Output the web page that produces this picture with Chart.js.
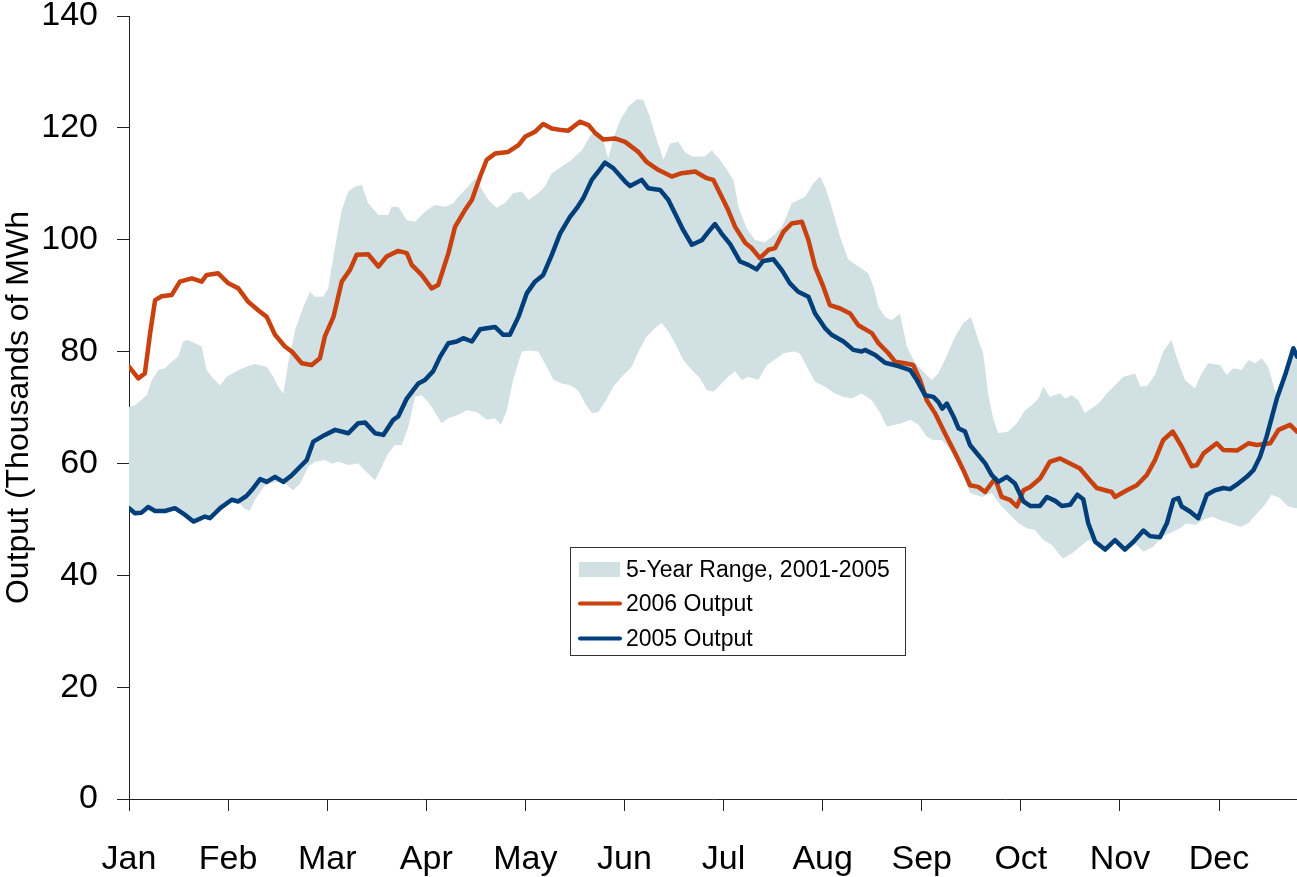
<!DOCTYPE html>
<html>
<head>
<meta charset="utf-8">
<script src="https://cdn.jsdelivr.net/npm/chart.js@4.4.1/dist/chart.umd.min.js"></script>
<style>
  html, body { margin: 0; padding: 0; background: #ffffff; }
  #wrap { width: 1297px; height: 877px; position: relative; }
</style>
</head>
<body>
<div id="wrap"><canvas id="c" width="1297" height="877"></canvas></div>
<script>
// ---------------- DATA ----------------
// x = position along the year in "days" (30 per month tick), y = thousands of MWh
const monthLabels = ['Jan','Feb','Mar','Apr','May','Jun','Jul','Aug','Sep','Oct','Nov','Dec'];
const daysPerTick = 30;
const lastDay = 353.6;
const yTicks = [0, 20, 40, 60, 80, 100, 120, 140];

const rangeLabel = '5-Year Range, 2001-2005';
const label2006 = '2006 Output';
const label2005 = '2005 Output';
const yTitle = 'Output (Thousands of MWh';

const rangeUpper = [
  [0,70.1],[1.8,70.4],[5.4,72.2],[6.9,74.9],[8.9,76.7],[10.9,77.0],[12.9,78.2],[14.9,79.1],[16.4,81.8],[17.5,82.1],
  [20.0,81.5],[22.0,80.9],[23.5,76.7],[25.5,75.2],[27.6,74.0],[29.6,75.5],[33.1,76.7],[35.6,77.3],[38.1,77.8],[41.7,77.3],
  [43.7,75.5],[45.2,73.7],[46.7,72.5],[48.2,77.9],[50.3,83.9],[52.8,88.0],[54.8,90.7],[56.3,89.8],[58.8,89.8],[60.3,91.3],
  [62.4,98.8],[64.4,105.3],[66.4,108.6],[68.4,109.5],[70.5,109.8],[72.4,106.5],[75.5,104.4],[78.5,104.4],[79.5,105.9],[81.5,105.9],
  [84.1,103.5],[86.6,103.2],[89.6,105.0],[92.6,106.2],[95.7,105.9],[98.2,106.5],[99.7,107.7],[102.7,109.5],[104.8,111.0],[106.3,109.5],
  [108.8,107.1],[111.3,105.7],[113.8,106.5],[116.3,108.3],[118.9,108.6],[120.9,107.1],[123.9,108.3],[125.9,109.5],[128.0,111.9],[131.0,113.1],
  [134.0,114.3],[137.1,116.0],[139.1,118.1],[141.1,119.6],[143.1,118.7],[145.1,114.5],[146.6,118.1],[148.7,121.4],[151.2,123.8],[153.7,125.1],
  [155.7,125.0],[157.7,122.0],[159.8,117.8],[161.8,114.3],[163.8,117.2],[166.3,117.5],[168.3,115.7],[170.4,114.9],[174.4,114.9],[176.4,116.0],
  [178.9,114.3],[181.0,112.5],[183.0,110.7],[184.5,105.9],[187.0,102.0],[189.5,100.0],[192.5,99.5],[195.6,101.0],[197.6,102.3],[198.6,103.5],
  [200.6,106.5],[204.7,107.7],[207.2,110.1],[209.2,111.3],[210.7,109.5],[212.7,105.9],[215.3,100.5],[217.8,96.4],[220.8,95.2],[223.8,94.0],
  [225.4,91.6],[226.9,88.0],[228.9,86.2],[230.9,85.6],[233.4,86.8],[235.5,80.9],[238.0,77.9],[241.0,76.1],[243.0,74.9],[245.0,76.1],
  [247.0,78.5],[250.1,82.7],[252.6,85.1],[254.9,86.2],[257.1,82.1],[258.6,79.7],[260.1,72.5],[261.7,67.8],[263.2,65.4],[266.2,65.7],
  [268.8,67.2],[271.3,69.5],[273.3,70.4],[275.3,71.6],[276.8,73.7],[278.8,71.9],[281.9,72.5],[283.4,71.6],[285.4,72.2],[287.4,71.3],
  [289.4,69.0],[292.0,70.1],[294.0,71.0],[296.0,72.5],[298.5,74.0],[301.0,75.5],[303.1,75.8],[304.6,76.1],[306.1,73.8],[308.1,73.8],
  [310.6,75.8],[313.1,80.0],[315.6,82.1],[317.1,79.1],[319.7,74.9],[322.7,73.4],[324.7,76.1],[326.7,77.9],[330.3,77.6],[332.3,75.8],
  [334.3,77.0],[336.8,76.7],[338.9,78.5],[340.9,77.9],[342.9,78.8],[344.9,77.3],[346.9,73.1],[347.5,72.5],[348.8,73.8],[350.0,75.8],
  [352.5,80.6],[353.6,79.1]
];

const rangeLower = [
  [0,52.0],[1.8,51.1],[3.8,51.2],[5.8,52.2],[7.9,51.5],[10.9,51.5],[13.9,52.0],[17.0,50.8],[19.5,49.6],[23.0,50.5],
  [24.5,50.2],[27.6,52.0],[31.1,53.5],[33.1,53.2],[34.8,52.0],[36.6,51.5],[38.1,53.5],[41.2,56.1],[44.2,56.7],[47.2,56.4],
  [49.7,55.2],[51.8,56.4],[54.3,59.4],[56.3,60.3],[59.3,60.6],[61.4,60.0],[63.4,60.3],[66.4,59.7],[69.4,60.0],[72.4,58.2],
  [74.5,57.0],[76.5,59.4],[78.5,61.8],[80.5,63.3],[82.6,63.3],[84.6,66.6],[86.6,71.9],[88.6,72.2],[90.6,71.0],[92.6,69.2],
  [94.6,67.2],[96.7,68.1],[99.7,68.7],[102.2,69.5],[105.3,69.2],[108.3,67.8],[110.8,68.1],[112.6,66.9],[114.4,69.5],[116.3,74.9],
  [118.9,80.0],[121.4,80.2],[123.9,80.0],[126.5,77.3],[128.5,74.9],[131.0,74.3],[133.5,74.0],[136.0,73.1],[138.1,70.7],[140.1,69.0],
  [142.1,69.2],[144.1,71.0],[146.6,73.7],[149.2,75.5],[152.2,77.3],[154.2,80.0],[156.7,82.7],[159.2,84.2],[161.2,85.1],[163.3,83.6],
  [165.3,81.5],[167.8,78.5],[170.4,76.7],[172.9,75.2],[174.9,73.1],[176.9,72.8],[179.4,74.3],[181.4,75.5],[183.5,76.5],[185.5,74.9],
  [187.5,75.5],[190.5,74.9],[193.1,77.6],[196.1,78.8],[198.1,79.7],[201.1,80.0],[203.1,79.7],[205.2,77.3],[207.7,74.6],[210.7,73.7],
  [213.7,72.5],[216.3,71.9],[218.8,71.6],[221.8,72.5],[224.9,71.3],[227.4,69.0],[229.4,66.6],[231.9,66.9],[233.9,67.2],[236.5,67.8],
  [239.0,66.9],[241.5,64.8],[243.5,64.2],[246.1,64.2],[248.5,62.5],[251.1,60.6],[254.6,54.7],[258.2,54.0],[261.2,54.7],[264.2,52.3],
  [267.2,50.5],[269.3,49.3],[271.8,48.4],[274.3,48.1],[276.8,46.3],[279.4,45.4],[281.4,43.9],[282.9,43.0],[285.4,43.9],[287.9,45.1],
  [290.4,46.3],[293.0,45.8],[295.5,44.6],[298.5,46.3],[301.5,44.6],[304.1,46.0],[307.1,44.2],[310.1,45.1],[312.6,46.9],[315.1,47.5],
  [318.1,48.4],[320.1,49.3],[322.7,49.0],[325.2,49.9],[327.8,50.5],[330.3,49.9],[333.3,49.3],[336.4,48.7],[338.9,49.3],[341.4,51.0],
  [343.9,52.6],[345.9,54.4],[348.4,53.8],[350.9,52.3],[353.6,52.0]
];

const output2006 = [
  [0,77.3],[2.8,75.2],[4.8,76.1],[6.4,83.3],[7.9,89.2],[9.9,89.9],[12.9,90.1],[15.4,92.5],[19.0,93.1],[22.0,92.5],
  [23.5,93.7],[27.0,94.0],[30.1,92.2],[33.1,91.3],[36.1,88.9],[39.1,87.4],[41.7,86.2],[44.2,83.0],[47.2,80.9],[49.3,80.0],
  [52.3,77.9],[55.3,77.6],[57.8,78.8],[59.3,82.7],[61.9,86.2],[64.4,92.5],[66.9,94.6],[68.9,97.3],[72.4,97.4],[75.5,95.2],
  [78.0,97.0],[81.5,98.0],[84.1,97.6],[85.6,95.5],[88.6,93.7],[91.6,91.3],[93.6,91.9],[96.7,97.6],[98.7,102.3],[101.7,105.3],
  [103.8,107.1],[106.3,111.3],[108.3,114.3],[110.8,115.4],[114.8,115.7],[117.9,116.9],[119.9,118.4],[122.9,119.3],[125.4,120.7],[128.0,119.9],
  [131.0,119.6],[133.0,119.5],[136.5,121.1],[139.1,120.5],[141.1,119.1],[143.6,117.9],[147.1,118.1],[150.2,117.5],[154.2,115.7],[156.7,113.9],
  [160.2,112.5],[164.3,111.3],[167.3,111.9],[171.4,112.2],[174.9,111.0],[176.9,110.7],[178.9,108.3],[181.4,105.3],[183.5,102.3],[186.6,99.4],
  [188.5,98.5],[191.0,96.7],[193.6,98.2],[195.6,98.5],[198.1,101.4],[200.6,102.9],[203.7,103.2],[205.7,99.9],[207.7,95.2],[210.2,91.6],
  [212.2,88.3],[215.3,87.7],[218.3,86.8],[220.8,84.7],[224.9,83.3],[226.9,81.5],[229.9,79.7],[231.9,78.2],[234.9,77.9],[237.4,77.6],
  [239.5,74.9],[241.5,71.3],[244.0,69.0],[247.0,65.4],[250.1,61.8],[252.6,58.8],[254.6,56.1],[257.1,55.8],[259.2,54.9],[262.2,57.3],
  [264.2,54.0],[266.7,53.5],[268.8,52.3],[270.8,55.2],[272.8,55.8],[275.8,57.3],[278.8,60.3],[281.9,60.9],[284.9,60.0],[287.9,59.1],
  [290.9,57.0],[293.0,55.6],[295.5,55.2],[297.5,54.9],[298.5,54.0],[302.1,55.2],[305.1,56.1],[308.1,57.9],[310.6,60.6],[313.1,64.2],
  [316.0,65.7],[318.7,63.0],[321.7,59.5],[323.3,59.7],[325.3,61.8],[329.3,63.6],[331.3,62.4],[335.4,62.3],[338.9,63.6],[341.4,63.3],
  [345.5,63.6],[348.0,66.0],[351.5,66.9],[353.6,65.7]
];

const output2005 = [
  [0,52.0],[1.8,51.1],[3.8,51.2],[5.8,52.2],[7.9,51.5],[10.9,51.5],[13.9,52.0],[17.0,50.8],[19.5,49.6],[23.0,50.5],
  [24.5,50.2],[27.6,52.0],[31.1,53.5],[33.1,53.2],[35.6,54.2],[37.1,55.2],[39.7,57.2],[41.7,56.7],[44.2,57.6],[46.7,56.7],
  [49.3,57.9],[51.8,59.4],[53.8,60.6],[55.8,63.9],[59.3,65.1],[62.4,66.0],[66.4,65.4],[69.4,67.2],[71.5,67.3],[74.5,65.4],
  [77.0,65.1],[80.0,67.8],[81.5,68.4],[84.1,71.6],[87.6,74.3],[89.6,74.9],[92.1,76.5],[94.2,79.1],[96.7,81.5],[99.2,81.8],
  [101.2,82.4],[103.8,81.8],[106.3,84.0],[110.8,84.4],[113.3,83.0],[115.3,83.0],[117.9,86.2],[120.4,90.4],[122.9,92.5],[125.4,93.7],
  [128.0,97.3],[130.5,101.1],[133.5,104.1],[135.5,105.6],[137.5,107.4],[140.1,110.7],[142.1,112.2],[144.1,113.8],[146.6,112.8],[150.2,110.4],
  [151.7,109.6],[155.2,110.7],[157.2,109.2],[160.8,108.9],[163.3,107.1],[165.8,104.1],[167.8,101.7],[170.4,99.1],[173.4,99.9],[175.4,101.4],
  [177.4,102.8],[179.4,101.1],[182.0,99.2],[185.0,96.1],[187.5,95.5],[190.0,94.7],[192.0,96.2],[195.1,96.5],[197.6,94.6],[200.1,92.2],
  [202.6,90.7],[205.7,89.8],[207.7,86.8],[210.7,84.2],[212.7,83.0],[216.3,81.8],[219.3,80.3],[221.8,80.0],[222.8,80.3],[225.9,79.4],
  [228.9,78.0],[232.9,77.4],[236.5,76.7],[238.5,74.9],[241.0,72.2],[243.5,71.9],[245.0,71.0],[246.2,69.8],[247.6,70.7],[249.6,68.4],
  [251.1,66.3],[253.1,65.7],[254.6,63.3],[257.1,61.5],[259.2,60.0],[261.2,57.9],[263.2,56.7],[265.7,57.6],[268.2,56.4],[270.8,53.2],
  [272.8,52.4],[275.8,52.4],[277.9,54.0],[280.4,53.3],[282.4,52.4],[284.9,52.6],[287.1,54.4],[288.9,53.6],[290.4,49.3],[292.5,46.0],
  [295.5,44.6],[298.5,46.3],[301.5,44.6],[304.1,46.0],[307.1,48.0],[309.1,47.0],[312.1,46.8],[314.2,49.3],[316.2,53.5],[317.7,53.8],
  [318.7,52.3],[321.2,51.4],[323.7,50.2],[326.3,54.4],[328.8,55.2],[331.3,55.6],[333.3,55.4],[335.8,56.4],[338.4,57.6],[340.4,58.8],
  [342.4,61.2],[344.4,64.8],[347.5,71.6],[350.0,75.8],[352.5,80.6],[353.6,79.1]
];

// ---------------- STYLE ----------------
const FONT = '"Liberation Sans", Arial, Helvetica, sans-serif';
const bandColor = '#D1E0E3';
const color2006 = '#C8410F';
const color2005 = '#003F7A';
const axisColor = '#222222';

const toXY = arr => arr.map(([x, y]) => ({ x, y }));

const boxLegend = {
  id: 'boxLegend',
  afterDraw(chart) {
    const ctx = chart.ctx;
    const ds = chart.data.datasets;
    const items = [
      { ds: ds[0], kind: 'box', cy: 569.5 },
      { ds: ds[2], kind: 'line', cy: 603.5 },
      { ds: ds[3], kind: 'line', cy: 638.5 }
    ];
    ctx.save();
    ctx.fillStyle = '#ffffff';
    ctx.fillRect(570.5, 547.5, 335, 108);
    ctx.strokeStyle = '#333333';
    ctx.lineWidth = 1;
    ctx.strokeRect(570.5, 547.5, 335, 108);
    ctx.font = '23px ' + FONT;
    ctx.textBaseline = 'middle';
    ctx.textAlign = 'left';
    items.forEach(it => {
      if (it.kind === 'box') {
        ctx.fillStyle = it.ds.backgroundColor;
        ctx.fillRect(579, it.cy - 7.5, 41, 15);
      } else {
        ctx.strokeStyle = it.ds.borderColor;
        ctx.lineWidth = 4;
        ctx.lineCap = 'round';
        ctx.beginPath();
        ctx.moveTo(580, it.cy);
        ctx.lineTo(620, it.cy);
        ctx.stroke();
      }
      ctx.fillStyle = '#000000';
      ctx.fillText(it.ds.label, 626, it.cy + 1);
    });
    ctx.restore();
  }
};

new Chart(document.getElementById('c'), {
  type: 'line',
  data: {
    datasets: [
      { label: rangeLabel, data: toXY(rangeUpper), borderWidth: 0, borderColor: 'rgba(0,0,0,0)',
        backgroundColor: bandColor, fill: '+1', pointRadius: 0, tension: 0, order: 3 },
      { label: 'range-lower', data: toXY(rangeLower), borderWidth: 0, borderColor: 'rgba(0,0,0,0)',
        backgroundColor: bandColor, fill: false, pointRadius: 0, tension: 0, order: 4 },
      { label: label2006, data: toXY(output2006), borderColor: color2006, backgroundColor: color2006,
        borderWidth: 4.5, fill: false, pointRadius: 0, tension: 0, borderJoinStyle: 'round', borderCapStyle: 'round', order: 1 },
      { label: label2005, data: toXY(output2005), borderColor: color2005, backgroundColor: color2005,
        borderWidth: 4.5, fill: false, pointRadius: 0, tension: 0, borderJoinStyle: 'round', borderCapStyle: 'round', order: 0 }
    ]
  },
  options: {
    responsive: false,
    animation: false,
    devicePixelRatio: 1,
    layout: { padding: { top: 16, right: 0, bottom: 0, left: 0 } },
    plugins: { legend: { display: false }, tooltip: { enabled: false } },
    scales: {
      x: {
        type: 'linear',
        min: 0,
        max: lastDay,
        afterBuildTicks: axis => { axis.ticks = monthLabels.map((_, i) => ({ value: i * daysPerTick })); },
        afterFit: s => { s.height = 78; s.paddingLeft = 0; s.paddingRight = 0; },
        ticks: {
          autoSkip: false, maxRotation: 0, minRotation: 0,
          callback: v => monthLabels[Math.round(v / daysPerTick)],
          color: '#000000', padding: 28,
          font: { family: FONT, size: 34 }
        },
        grid: { drawOnChartArea: false, drawTicks: true, tickLength: 12, color: axisColor, lineWidth: 1 },
        border: { display: true, color: axisColor, width: 1 }
      },
      y: {
        min: 0,
        max: 140,
        afterBuildTicks: axis => { axis.ticks = yTicks.map(v => ({ value: v })); },
        afterFit: s => { s.width = 129; s.paddingTop = 0; s.paddingBottom = 0; },
        ticks: {
          color: '#000000', padding: 19,
          font: { family: FONT, size: 34 }
        },
        title: {
          display: true, text: yTitle, color: '#000000',
          font: { family: FONT, size: 32 },
          padding: { top: 0, bottom: 0 }
        },
        grid: { drawOnChartArea: false, drawTicks: true, tickLength: 12, color: axisColor, lineWidth: 1 },
        border: { display: true, color: axisColor, width: 1 }
      }
    }
  },
  plugins: [boxLegend]
});
</script>
</body>
</html>
